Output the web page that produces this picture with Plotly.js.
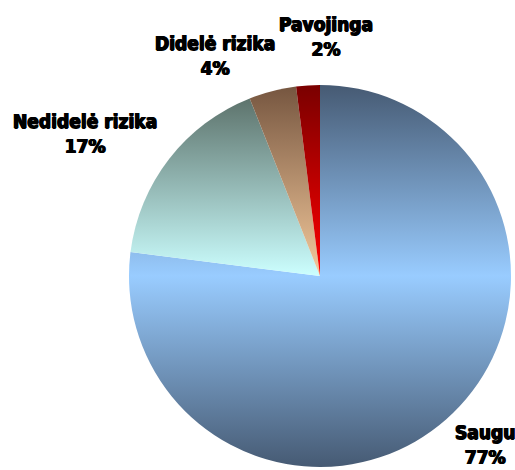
<!DOCTYPE html>
<html>
<head>
<meta charset="utf-8">
<script src="https://cdn.plot.ly/plotly-3.0.1.min.js"></script>
<style>html,body{margin:0;padding:0;background:#fff;}#chart{width:515px;height:470px;}</style>
</head>
<body>
<div id="chart"></div>
<script>
// Data
const categories = ["Saugu", "Nedidelė rizika", "Didelė rizika", "Pavojinga"];
const values = [77, 17, 4, 2];
const percentLabels = ["77%", "17%", "4%", "2%"];

// Styles
const baseColors = ["#7fa8d6", "#9ccfcc", "#c09a72", "#c00000"];
const gradients = [
  [[0, "#465a73"], [0.5, "#99ccff"], [1, "#465a73"]],
  [[0, "#5d736c"], [1, "#ccffff"]],
  [[0, "#765640"], [1, "#f5ca9c"]],
  [[0, "#7a0000"], [1, "#ff0000"]]
];
const labelPos = [
  {x: 485, y: 444},
  {x: 85, y: 133},
  {x: 215, y: 55},
  {x: 326, y: 36}
];
const W = 515, H = 470;
const FONT = "DejaVu Sans Condensed, DejaVu Sans, sans-serif";

const trace = {
  type: "pie",
  labels: categories,
  values: values,
  sort: false,
  direction: "clockwise",
  rotation: 0,
  textinfo: "none",
  hoverinfo: "none",
  marker: {colors: baseColors, line: {width: 0}},
  domain: {x: [(320 - 191) / W, (320 + 191) / W], y: [1 - 467 / H, 1 - 85 / H]}
};

const annotations = categories.map((c, i) => ({
  xref: "paper", yref: "paper",
  x: labelPos[i].x / W, y: 1 - labelPos[i].y / H,
  xanchor: "center", yanchor: "middle",
  text: c + "<br>" + percentLabels[i],
  showarrow: false,
  font: {family: FONT, size: 19, color: "#000", weight: "bold",
         shadow: "0.7px 0 0 #000, -0.7px 0 0 #000, 0 0.5px 0 #000"}
}));

const layout = {
  width: W, height: H,
  margin: {l: 0, r: 0, t: 0, b: 0},
  paper_bgcolor: "#fff",
  showlegend: false,
  annotations: annotations
};

Plotly.newPlot("chart", [trace], layout, {staticPlot: true, displayModeBar: false}).then(gd => {
  const svg = gd.querySelector("svg.main-svg");
  const ns = "http://www.w3.org/2000/svg";
  let defs = svg.querySelector("defs");
  if (!defs) { defs = document.createElementNS(ns, "defs"); svg.insertBefore(defs, svg.firstChild); }
  gradients.forEach((stops, i) => {
    const lg = document.createElementNS(ns, "linearGradient");
    lg.setAttribute("id", "sliceGrad" + i);
    lg.setAttribute("x1", "0"); lg.setAttribute("y1", "0");
    lg.setAttribute("x2", "0"); lg.setAttribute("y2", "1");
    stops.forEach(s => {
      const st = document.createElementNS(ns, "stop");
      st.setAttribute("offset", s[0]);
      st.setAttribute("stop-color", s[1]);
      lg.appendChild(st);
    });
    defs.appendChild(lg);
  });
  gd.querySelectorAll("g.slice path.surface").forEach((p, i) => {
    p.style.fill = "url(#sliceGrad" + i + ")";
  });
});
</script>
</body>
</html>
